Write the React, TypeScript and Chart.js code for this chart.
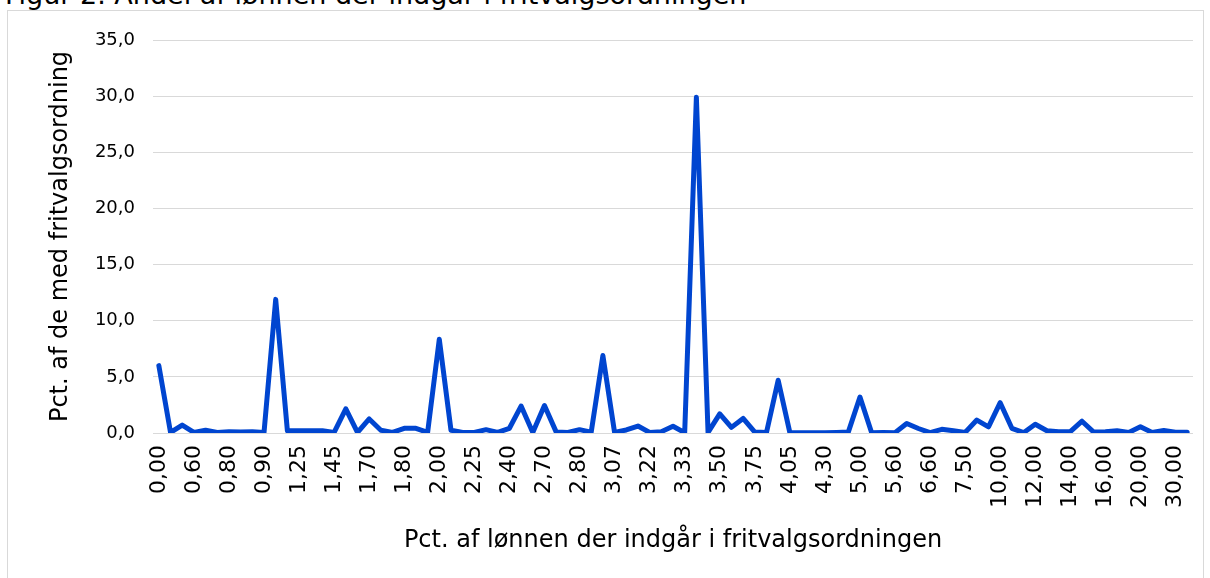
import React, { useEffect, useRef } from 'react';
import { Chart, registerables } from 'chart.js';

Chart.register(...registerables);

// Category labels (pct. of wage in the free-choice scheme). Only every third is printed.
const categories: string[] = [
  '0,00', '0,25', '0,50', '0,60', '0,65', '0,75', '0,80', '0,83', '0,85', '0,90',
  '1,00', '1,20', '1,25', '1,30', '1,40', '1,45', '1,50', '1,60', '1,70', '1,75',
  '1,77', '1,80', '1,90', '1,95', '2,00', '2,10', '2,20', '2,25', '2,30', '2,35',
  '2,40', '2,50', '2,60', '2,70', '2,75', '2,78', '2,80', '2,90', '3,00', '3,07',
  '3,10', '3,20', '3,22', '3,25', '3,30', '3,33', '3,40', '3,45', '3,50', '3,60',
  '3,70', '3,75', '3,80', '4,00', '4,05', '4,10', '4,20', '4,30', '4,50', '4,75',
  '5,00', '5,20', '5,50', '5,60', '6,00', '6,50', '6,60', '7,00', '7,25', '7,50',
  '8,00', '9,00', '10,00', '10,50', '11,00', '12,00', '12,50', '13,00', '14,00', '15,00',
  '15,50', '16,00', '17,00', '18,00', '20,00', '22,00', '25,00', '30,00', '40,00',
];

// Pct. af de med fritvalgsordning
const shares: number[] = [
  6.0, 0.05, 0.7, 0.05, 0.25, 0.05, 0.12, 0.08, 0.12, 0.05,
  11.9, 0.2, 0.2, 0.2, 0.2, 0.05, 2.15, 0.05, 1.25, 0.25,
  0.05, 0.42, 0.42, 0.05, 8.35, 0.25, 0.05, 0.05, 0.3, 0.05,
  0.42, 2.4, 0.05, 2.45, 0.1, 0.05, 0.3, 0.08, 6.9, 0.05,
  0.27, 0.62, 0.05, 0.12, 0.6, 0.03, 29.9, 0.05, 1.7, 0.5,
  1.3, 0.08, 0.05, 4.7, 0.03, 0.02, 0.02, 0.03, 0.05, 0.08,
  3.2, 0.03, 0.05, 0.03, 0.85, 0.4, 0.03, 0.33, 0.2, 0.05,
  1.15, 0.55, 2.7, 0.42, 0.03, 0.78, 0.2, 0.12, 0.12, 1.05,
  0.08, 0.12, 0.2, 0.05, 0.55, 0.05, 0.22, 0.07, 0.07,
];

const yMin = 0;
const yMax = 35;
const yStep = 5;

const titleText = 'Figur 2. Andel af lønnen der indgår i fritvalgsordningen';
const xTitle = 'Pct. af lønnen der indgår i fritvalgsordningen';
const yTitle = 'Pct. af de med fritvalgsordning';

const FONT = '"DejaVu Sans", sans-serif';
const LINE = '#0045D0';

export default function App() {
  const ref = useRef<HTMLCanvasElement>(null);

  useEffect(() => {
    document.body.style.margin = '0';
    const chart = new Chart(ref.current!, {
      type: 'line',
      data: {
        labels: categories,
        datasets: [
          {
            data: shares,
            borderColor: LINE,
            backgroundColor: LINE,
            borderWidth: 5,
            pointRadius: 0,
            tension: 0,
            fill: false,
            borderJoinStyle: 'round',
            borderCapStyle: 'round',
          },
        ],
      },
      options: {
        animation: false,
        responsive: false,
        maintainAspectRatio: false,
        layout: { padding: { left: 0, top: 40, right: 17, bottom: 0 } },
        plugins: { legend: { display: false }, tooltip: { enabled: false } },
        scales: {
          x: {
            offset: true,
            grid: { display: false, drawTicks: false },
            border: { display: false },
            ticks: {
              autoSkip: false,
              maxRotation: 90,
              minRotation: 90,
              padding: 12,
              color: '#000',
              font: { family: FONT, size: 22 },
              callback: (_v: any, i: number) => (i % 3 === 0 ? categories[i] : ''),
            },
            title: {
              display: true,
              text: xTitle,
              color: '#000',
              font: { family: FONT, size: 24 },
              padding: { top: 0, bottom: 23 },
            },
            afterFit: (s: any) => {
              s.height = 145;
              s.paddingLeft = 0;
              s.paddingRight = 0;
            },
          },
          y: {
            min: yMin,
            max: yMax,
            grid: { color: '#d9d9d9', lineWidth: 1, drawTicks: false },
            border: { display: false },
            ticks: {
              stepSize: yStep,
              padding: 18,
              color: '#000',
              font: { family: FONT, size: 18 },
              callback: (v: any) => Number(v).toFixed(1).replace('.', ','),
            },
            title: {
              display: true,
              text: yTitle,
              color: '#000',
              font: { family: FONT, size: 24 },
              padding: { top: 46, bottom: 0 },
            },
            afterFit: (s: any) => {
              s.width = 153;
              s.paddingTop = 0;
              s.paddingBottom = 0;
            },
          },
        },
      },
    });
    return () => chart.destroy();
  }, []);

  return (
    <div style={{ position: 'relative', width: 1210, height: 578, overflow: 'hidden', background: '#fff' }}>
      <div
        style={{
          position: 'absolute',
          left: 5,
          top: -20,
          fontFamily: FONT,
          fontSize: 27,
          lineHeight: '30px',
          color: '#000',
          whiteSpace: 'nowrap',
        }}
      >
        {titleText}
      </div>
      <div
        style={{
          position: 'absolute',
          left: 7,
          top: 10,
          width: 1197,
          height: 620,
          border: '1px solid #d9d9d9',
          boxSizing: 'border-box',
        }}
      />
      <canvas ref={ref} width={1210} height={578} style={{ position: 'absolute', left: 0, top: 0 }} />
    </div>
  );
}
